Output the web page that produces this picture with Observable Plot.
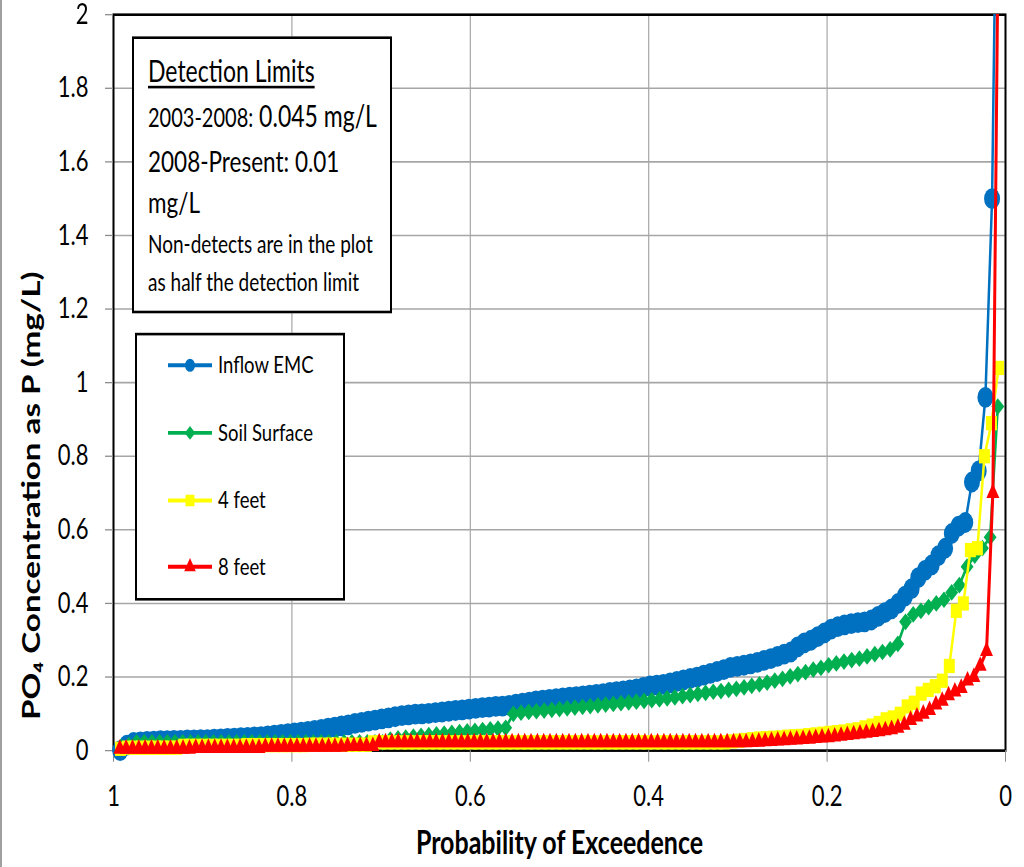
<!DOCTYPE html>
<html>
<head>
<meta charset="utf-8">
<script src="https://cdn.jsdelivr.net/npm/d3@7"></script>
<script src="https://cdn.jsdelivr.net/npm/@observablehq/plot@0.6"></script>
<style>
  html, body { margin: 0; padding: 0; background: #fff; }
  body { width: 1024px; height: 867px; position: relative; }
  #stage { position: absolute; left: 0; top: 0; width: 1024px; height: 667px; transform: scale(1, 1.3); transform-origin: 0 0; font-family: Lato, "Open Sans", sans-serif; color: #000; }
  #stage > svg { position: absolute; left: 0; top: 0; }
  .box { position: absolute; border: 2px solid #000; background: #fff; box-sizing: border-box; }
  .t { position: absolute; white-space: nowrap; line-height: 1.2; }
  #edge { position: absolute; left: 0; top: 0; width: 2px; height: 667px; background: #a0a0a0; }
</style>
</head>
<body>
<div id="stage"></div>
<script>
// ---------- data (sorted concentrations, rank 1 = largest) ----------
const seriesNames = ["Inflow EMC", "Soil Surface", "4 feet", "8 feet"];

const inflowEMC = [
  2.9, 1.5, 0.96, 0.76, 0.73, 0.62, 0.61, 0.59, 0.55, 0.53,
  0.505, 0.49, 0.47, 0.44, 0.42, 0.40, 0.385, 0.375, 0.365, 0.355,
  0.35, 0.348, 0.345, 0.342, 0.337, 0.33, 0.32, 0.31, 0.30, 0.293,
  0.282, 0.268, 0.262, 0.256, 0.25, 0.245, 0.24, 0.236, 0.232, 0.229,
  0.226, 0.22, 0.215, 0.21, 0.205, 0.2, 0.196, 0.192, 0.188, 0.184,
  0.18, 0.178, 0.176, 0.172, 0.168, 0.165, 0.162, 0.16, 0.158, 0.155,
  0.153, 0.151, 0.149, 0.147, 0.145, 0.143, 0.141, 0.139, 0.137, 0.135,
  0.132, 0.129, 0.126, 0.123, 0.121, 0.12, 0.118, 0.117, 0.115, 0.113,
  0.111, 0.109, 0.107, 0.105, 0.103, 0.101, 0.1, 0.099, 0.097, 0.095,
  0.092, 0.089, 0.086, 0.083, 0.08, 0.077, 0.074, 0.07, 0.067, 0.064,
  0.061, 0.058, 0.055, 0.052, 0.05, 0.048, 0.046, 0.044, 0.042, 0.04,
  0.038, 0.037, 0.036, 0.035, 0.034, 0.033, 0.032, 0.031, 0.03, 0.03,
  0.029, 0.029, 0.028, 0.028, 0.027, 0.027, 0.026, 0.025, 0.024, 0.022,
  0.015, 0.0
];

const soilSurface = [
  0.935, 0.58, 0.55, 0.53, 0.50, 0.45, 0.43, 0.41, 0.40, 0.39,
  0.38, 0.37, 0.35, 0.29, 0.275, 0.268, 0.262, 0.256, 0.25, 0.246,
  0.242, 0.237, 0.232, 0.225, 0.22, 0.213, 0.208, 0.202, 0.195, 0.19,
  0.185, 0.18, 0.176, 0.172, 0.168, 0.165, 0.162, 0.16, 0.157, 0.154,
  0.151, 0.148, 0.145, 0.142, 0.139, 0.137, 0.135, 0.133, 0.131, 0.129,
  0.127, 0.125, 0.123, 0.121, 0.119, 0.117, 0.115, 0.113, 0.111, 0.109,
  0.107, 0.105, 0.103, 0.10, 0.062, 0.06, 0.058, 0.056, 0.054, 0.052,
  0.05, 0.048, 0.046, 0.044, 0.042, 0.04, 0.038, 0.035, 0.033, 0.03,
  0.0225, 0.0225, 0.0225, 0.0225, 0.0225, 0.0225, 0.0225, 0.0225, 0.0225, 0.0225, 0.0225,
  0.0225, 0.0225, 0.0225, 0.0225, 0.0225, 0.0225, 0.0225, 0.0225, 0.0225, 0.0225, 0.0225,
  0.0225, 0.0225, 0.0225, 0.0225, 0.0225, 0.0225, 0.0225, 0.0225, 0.0225, 0.0225, 0.0225,
  0.015, 0.01
];

const fourFeet = [
  1.04, 0.89, 0.80, 0.55, 0.545, 0.40, 0.38, 0.23, 0.19, 0.175,
  0.165, 0.155, 0.13, 0.12, 0.10, 0.09, 0.085, 0.075, 0.068, 0.063,
  0.058, 0.055, 0.052, 0.05, 0.048, 0.046, 0.044, 0.042, 0.04, 0.039,
  0.038, 0.036, 0.035, 0.034, 0.033, 0.031, 0.029, 0.027, 0.025,
  0.0225, 0.0225, 0.0225, 0.0225, 0.0225, 0.0225, 0.0225, 0.0225, 0.0225, 0.0225,
  0.0225, 0.0225, 0.0225, 0.0225, 0.0225, 0.0225, 0.0225, 0.0225, 0.0225, 0.0225,
  0.0225, 0.0225, 0.0225, 0.0225, 0.0225, 0.0225, 0.0225, 0.0225, 0.0225, 0.0225,
  0.0225, 0.0225, 0.0225, 0.0225, 0.0225, 0.0225, 0.0225, 0.0225, 0.0225, 0.0225,
  0.0225, 0.0225, 0.0225, 0.0225, 0.0225, 0.0225, 0.0225, 0.0225, 0.0225, 0.0225,
  0.0225,
  0.016, 0.016, 0.016, 0.016, 0.016, 0.016, 0.016, 0.016, 0.016,
  0.015, 0.015, 0.015, 0.015, 0.015, 0.015, 0.015, 0.015, 0.015,
  0.013, 0.013, 0.013, 0.013, 0.013, 0.013, 0.013, 0.013, 0.013,
  0.008, 0.008, 0.008, 0.008, 0.008, 0.008, 0.008, 0.008,
  0.005
];

const eightFeet = [
  2.5, 0.70, 0.27, 0.23, 0.20, 0.19, 0.17, 0.16, 0.15, 0.135,
  0.125, 0.11, 0.10, 0.092, 0.083, 0.07, 0.062, 0.058, 0.055, 0.052,
  0.05, 0.048, 0.046, 0.044, 0.042, 0.04, 0.038, 0.036, 0.035, 0.034,
  0.032, 0.031, 0.03, 0.029, 0.028, 0.027, 0.026, 0.025, 0.024, 0.023,
  0.0225, 0.0225, 0.0225, 0.0225, 0.0225, 0.0225, 0.0225, 0.0225, 0.0225, 0.0225,
  0.0225, 0.0225, 0.0225, 0.0225, 0.0225, 0.0225, 0.0225, 0.0225, 0.0225, 0.0225,
  0.0225, 0.0225, 0.0225, 0.0225, 0.0225, 0.0225, 0.0225, 0.0225, 0.0225, 0.0225,
  0.0225, 0.0225, 0.0225, 0.0225, 0.0225, 0.0225, 0.0225, 0.0225, 0.0225, 0.0225,
  0.0225, 0.0225, 0.0225, 0.0225, 0.0225, 0.0225, 0.0225, 0.0225, 0.0225, 0.0225,
  0.0225, 0.0225, 0.0225, 0.0225, 0.0225, 0.0225, 0.0225, 0.0225, 0.0225,
  0.012, 0.012, 0.012, 0.012, 0.012,
  0.01, 0.01, 0.01, 0.01, 0.01, 0.01, 0.01, 0.01, 0.01, 0.01, 0.01, 0.01, 0.01,
  0.007, 0.007, 0.007, 0.007, 0.007, 0.007, 0.007, 0.007, 0.007, 0.007, 0.007,
  0.005, 0.005, 0.005, 0.005, 0.005, 0.005, 0.005, 0.005, 0.005, 0.005, 0.005, 0.005
];

const xTicks = [1, 0.8, 0.6, 0.4, 0.2, 0];
const xTickLabels = ["1", "0.8", "0.6", "0.4", "0.2", "0"];
const yTicks = [0, 0.2, 0.4, 0.6, 0.8, 1, 1.2, 1.4, 1.6, 1.8, 2];
const yTickLabels = ["0", "0.2", "0.4", "0.6", "0.8", "1", "1.2", "1.4", "1.6", "1.8", "2"];

const xLabel = "Probability of Exceedence";
const yLabel = "PO\u2084 Concentration as P (mg/L)";
const detectionLines = ["Detection Limits", "2003-2008:", "0.045 mg/L", "2008-Present: 0.01", "mg/L",
  "Non-detects are in the plot", "as half the detection limit"];

// ---------- styling ----------
const FONT = "Lato, 'Open Sans', sans-serif";
const styles = [
  {color: "#0070C0", symbol: "circle",   r: 8,   lr: 5,   sw: 2.5},
  {color: "#00B050", symbol: "diamond2", r: 5.8, lr: 4.2, sw: 2.5},
  {color: "#FFFF00", symbol: "square",   r: 6.2, lr: 5,   sw: 2.5},
  {color: "#FF0000", symbol: "triangle", r: 4.8, lr: 4.3, sw: 3}
];
const valueSets = [inflowEMC, soilSurface, fourFeet, eightFeet];

// Probability of exceedence = rank / (n + 1)
const tables = valueSets.map((vals, k) =>
  vals.map((v, i) => ({series: seriesNames[k], p: (i + 1) / (vals.length + 1), v})));

const seriesMarks = tables.flatMap((tbl, k) => [
  Plot.line(tbl, {x: "p", y: "v", stroke: styles[k].color, strokeWidth: styles[k].sw, clip: true}),
  Plot.dot(tbl, {x: "p", y: "v", symbol: styles[k].symbol, r: styles[k].r, fill: styles[k].color,
                 stroke: "none", filter: d => d.v <= 2})
]);

const plot = Plot.plot({
  width: 1024, height: 667,
  marginLeft: 113, marginRight: 19, marginTop: 10.8, marginBottom: 90.1,
  style: {fontFamily: FONT, fontSize: "22px", color: "#000", background: "#fff", overflow: "visible"},
  x: {domain: [0, 1], reverse: true, label: null},
  y: {domain: [0, 2], label: null},
  marks: [
    Plot.gridX(xTicks, {stroke: "#a6a6a6", strokeOpacity: 1, strokeWidth: 1.2}),
    Plot.gridY(yTicks, {stroke: "#a6a6a6", strokeOpacity: 1, strokeWidth: 1.2}),
    Plot.frame({stroke: "#000", strokeWidth: 2}),
    Plot.axisX(xTicks, {tickFormat: d => xTickLabels[xTicks.indexOf(d)], tickSize: 9, tickPadding: 18,
                        stroke: "#8c8c8c", fill: "#000", label: null, fontSize: 22}),
    Plot.axisY(yTicks, {tickFormat: d => yTickLabels[yTicks.indexOf(d)], tickSize: 8, tickPadding: 17,
                        stroke: "#8c8c8c", fill: "#000", label: null, fontSize: 22}),
    ...seriesMarks,
    Plot.text([xLabel], {text: d => d, frameAnchor: "bottom", lineAnchor: "top", dy: 62,
                         fontSize: 25, fontWeight: "bold", fill: "#000"}),
    Plot.text([yLabel], {text: d => d, frameAnchor: "left", dx: -82, dy: 87, rotate: -90,
                         textAnchor: "middle", fontSize: 25.5, fontWeight: "bold", fill: "#000"})
  ]
});

const stage = document.getElementById("stage");
stage.appendChild(plot);

const edge = document.createElement("div");
edge.id = "edge";
stage.appendChild(edge);

// ---------- detection-limits box ----------
function addBox(left, top, w, h) {
  const b = document.createElement("div");
  b.className = "box";
  Object.assign(b.style, {left: left + "px", top: top + "px", width: w + "px", height: h + "px"});
  stage.appendChild(b);
}
function addText(html, left, baseline, fs, extra) {
  const d = document.createElement("div");
  d.className = "t";
  d.innerHTML = html;
  Object.assign(d.style, {left: left + "px", top: (baseline - 0.987 * fs) + "px", fontSize: fs + "px"}, extra || {});
  stage.appendChild(d);
}
addBox(132, 27.7, 260, 213);
addText(detectionLines[0], 148, 63.8, 23,
  {textDecoration: "underline", textUnderlineOffset: "3px", textDecorationThickness: "1.6px"});
addText('<span style="font-size:20px">' + detectionLines[1] + '</span> ' + detectionLines[2], 148, 98.5, 23);
addText(detectionLines[3], 148, 132.3, 22.5);
addText(detectionLines[4], 148, 163.8, 22.5);
addText(detectionLines[5], 148, 196.2, 19);
addText(detectionLines[6], 148, 224.6, 19);

// ---------- legend box ----------
addBox(135, 256, 210, 205.5);
const legendY = [280.8, 333, 384.6, 436];
const symType = {circle: d3.symbolCircle, square: d3.symbolSquare, triangle: d3.symbolTriangle, diamond2: d3.symbolSquare};
seriesNames.forEach((name, k) => {
  const s = styles[k];
  const svg = d3.create("svg").attr("width", 50).attr("height", 24)
    .style("position", "absolute").style("left", "165px").style("top", (legendY[k] - 12) + "px");
  svg.append("line").attr("x1", 3).attr("x2", 47).attr("y1", 12).attr("y2", 12)
    .attr("stroke", s.color).attr("stroke-width", 3);
  const size = Math.PI * s.lr * s.lr;
  svg.append("path").attr("d", d3.symbol(symType[s.symbol], size)())
    .attr("transform", "translate(25,12)" + (s.symbol === "diamond2" ? " rotate(45)" : ""))
    .attr("fill", s.color);
  stage.appendChild(svg.node());
  addText(name, 218, legendY[k] + 6.7, 18.5);
});
</script>
</body>
</html>
